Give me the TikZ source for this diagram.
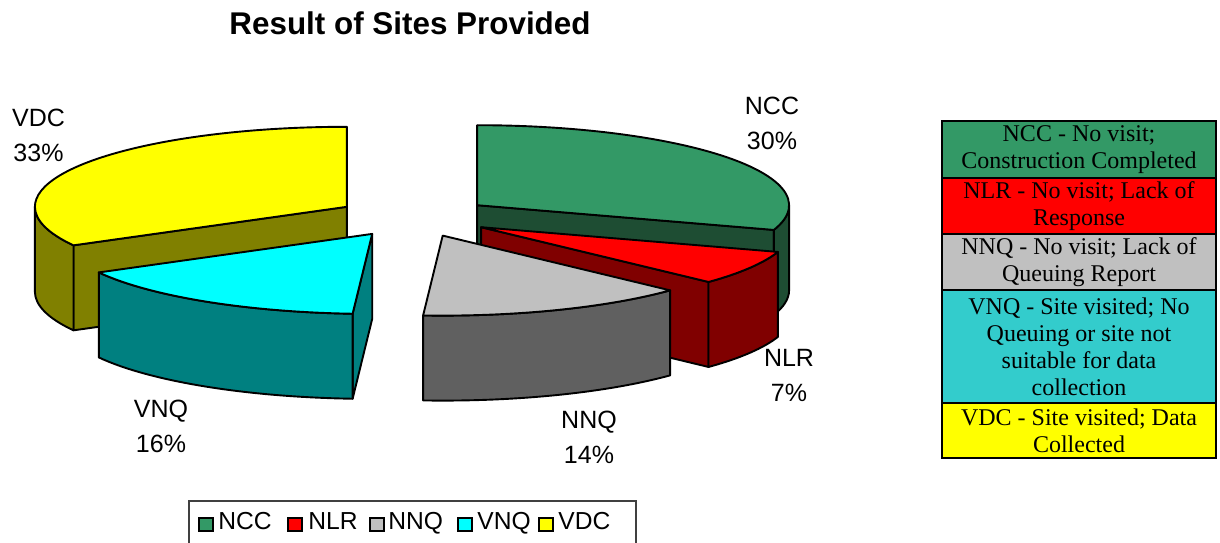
\documentclass[tikz,border=0pt]{standalone}
\usepackage{fontspec}
\setmainfont{Liberation Serif}
\setsansfont{Liberation Sans}
\definecolor{ncctop}{HTML}{339966}
\definecolor{nccside}{HTML}{1E4D33}
\definecolor{nlrtop}{HTML}{FF0000}
\definecolor{nlrside}{HTML}{800000}
\definecolor{nnqtop}{HTML}{C0C0C0}
\definecolor{nnqside}{HTML}{606060}
\definecolor{vnqtop}{HTML}{00FFFF}
\definecolor{vnqside}{HTML}{008080}
\definecolor{vdctop}{HTML}{FFFF00}
\definecolor{vdcside}{HTML}{808000}
\definecolor{vnqleg}{HTML}{33CCCC}
\tikzset{
  x=0.5pt,y=0.5pt,
  edge/.style={draw=black,line width=0.95pt,line join=round},
  pielabel/.style={font=\sffamily\fontsize{12.5}{17.5}\selectfont,align=center,inner sep=0pt},
  legrow/.style={draw=black,line width=0.8pt},
  legtext/.style={font=\fontsize{12}{13.5}\selectfont,align=center,inner sep=0pt},
  legsq/.style={draw=black,line width=0.6pt},
  legitem/.style={font=\sffamily\fontsize{12.3}{14}\selectfont,anchor=base west,inner sep=0pt}
}
\newcommand\rxy{312 and 80}
\begin{document}
\begin{tikzpicture}
\useasboundingbox (0,0) rectangle (1220,542);
% title
\node[font=\sffamily\bfseries\fontsize{15.7}{18}\selectfont,anchor=base] (title) at (410,507) {Result of Sites Provided};

% VDC slice
\begin{scope}[shift={(346.9,335.2)}]
  \filldraw[edge,fill=vdcside] (0,0) -- (208.8:\rxy) -- ++(0,-85) -- (0,-85) -- cycle;
  \filldraw[edge,fill=vdcside] (180:\rxy) arc[start angle=180,end angle=208.8,x radius=312,y radius=80] -- ++(0,-85) arc[start angle=208.8,end angle=180,x radius=312,y radius=80] -- cycle;
  \filldraw[edge,fill=vdctop] (0,0) -- (90:\rxy) arc[start angle=90,end angle=208.8,x radius=312,y radius=80] -- cycle;
\end{scope}
% NCC slice
\begin{scope}[shift={(477.1,336.8)}]
  \filldraw[edge,fill=nccside] (0,0) -- (-18:\rxy) -- ++(0,-85) -- (0,-85) -- cycle;
  \filldraw[edge,fill=nccside] (-18:\rxy) arc[start angle=-18,end angle=0,x radius=312,y radius=80] -- ++(0,-85) arc[start angle=0,end angle=-18,x radius=312,y radius=80] -- cycle;
  \filldraw[edge,fill=ncctop] (0,0) -- (-18:\rxy) arc[start angle=-18,end angle=90,x radius=312,y radius=80] -- cycle;
\end{scope}
% NLR slice
\begin{scope}[shift={(481.1,314.8)}]
  \filldraw[edge,fill=nlrside] (0,0) -- (-43.2:\rxy) -- ++(0,-85) -- (0,-85) -- cycle;
  \filldraw[edge,fill=nlrside] (-43.2:\rxy) arc[start angle=-43.2,end angle=-18,x radius=312,y radius=80] -- ++(0,-85) arc[start angle=-18,end angle=-43.2,x radius=312,y radius=80] -- cycle;
  \filldraw[edge,fill=nlrtop] (0,0) -- (-43.2:\rxy) arc[start angle=-43.2,end angle=-18,x radius=312,y radius=80] -- cycle;
\end{scope}
% VNQ slice
\begin{scope}[shift={(372.2,308.1)}]
  \filldraw[edge,fill=vnqside] (0,0) -- (-93.6:\rxy) -- ++(0,-85) -- (0,-85) -- cycle;
  \filldraw[edge,fill=vnqside] (-151.2:\rxy) arc[start angle=-151.2,end angle=-93.6,x radius=312,y radius=80] -- ++(0,-85) arc[start angle=-93.6,end angle=-151.2,x radius=312,y radius=80] -- cycle;
  \filldraw[edge,fill=vnqtop] (0,0) -- (-151.2:\rxy) arc[start angle=-151.2,end angle=-93.6,x radius=312,y radius=80] -- cycle;
\end{scope}
% NNQ slice
\begin{scope}[shift={(442.7,306.4)}]
  \filldraw[edge,fill=nnqside] (-93.6:\rxy) arc[start angle=-93.6,end angle=-43.2,x radius=312,y radius=80] -- ++(0,-85) arc[start angle=-43.2,end angle=-93.6,x radius=312,y radius=80] -- cycle;
  \filldraw[edge,fill=nnqtop] (0,0) -- (-93.6:\rxy) arc[start angle=-93.6,end angle=-43.2,x radius=312,y radius=80] -- cycle;
\end{scope}

% slice labels
\node[pielabel] (lvdc) at (38.5,407) {VDC\\33\%};
\node[pielabel] (lncc) at (772,418.5) {NCC\\30\%};
\node[pielabel] (lnlr) at (789,166.5) {NLR\\7\%};
\node[pielabel] (lvnq) at (161,116) {VNQ\\16\%};
\node[pielabel] (lnnq) at (589,105) {NNQ\\14\%};

% right legend
\filldraw[legrow,fill=ncctop] (942,421) rectangle (1216,364);
\filldraw[legrow,fill=nlrtop] (942,364) rectangle (1216,308);
\filldraw[legrow,fill=nnqtop] (942,308) rectangle (1216,252);
\filldraw[legrow,fill=vnqleg] (942,252) rectangle (1216,139);
\filldraw[legrow,fill=vdctop] (942,139) rectangle (1216,84);
\draw[line width=1pt] (942,421) rectangle (1216,84);
\node[legtext] (kncc) at (1079,392.5) {NCC - No visit;\\Construction Completed};
\node[legtext] (knlr) at (1079,336) {NLR - No visit; Lack of\\Response};
\node[legtext] (knnq) at (1079,280) {NNQ - No visit; Lack of\\Queuing Report};
\node[legtext] (kvnq) at (1079,195.5) {VNQ - Site visited; No\\Queuing or site not\\suitable for data\\collection};
\node[legtext] (kvdc) at (1079,111.5) {VDC - Site visited; Data\\Collected};

% bottom legend
\draw[draw=black!75,line width=0.6pt] (189,-10) -- (189,41) -- (636,41) -- (636,-10);
\filldraw[legsq,fill=ncctop] (199,11) rectangle (213,24);
\node[legitem] (bncc) at (218,13) {NCC};
\filldraw[legsq,fill=nlrtop] (288,11) rectangle (302,24);
\node[legitem] (bnlr) at (308,13) {NLR};
\filldraw[legsq,fill=nnqtop] (370,11) rectangle (384,24);
\node[legitem] (bnnq) at (388,13) {NNQ};
\filldraw[legsq,fill=vnqtop] (458,11) rectangle (472,24);
\node[legitem] (bvnq) at (477,13) {VNQ};
\filldraw[legsq,fill=vdctop] (539,11) rectangle (553,24);
\node[legitem] (bvdc) at (558,13) {VDC};
\end{tikzpicture}
\end{document}
